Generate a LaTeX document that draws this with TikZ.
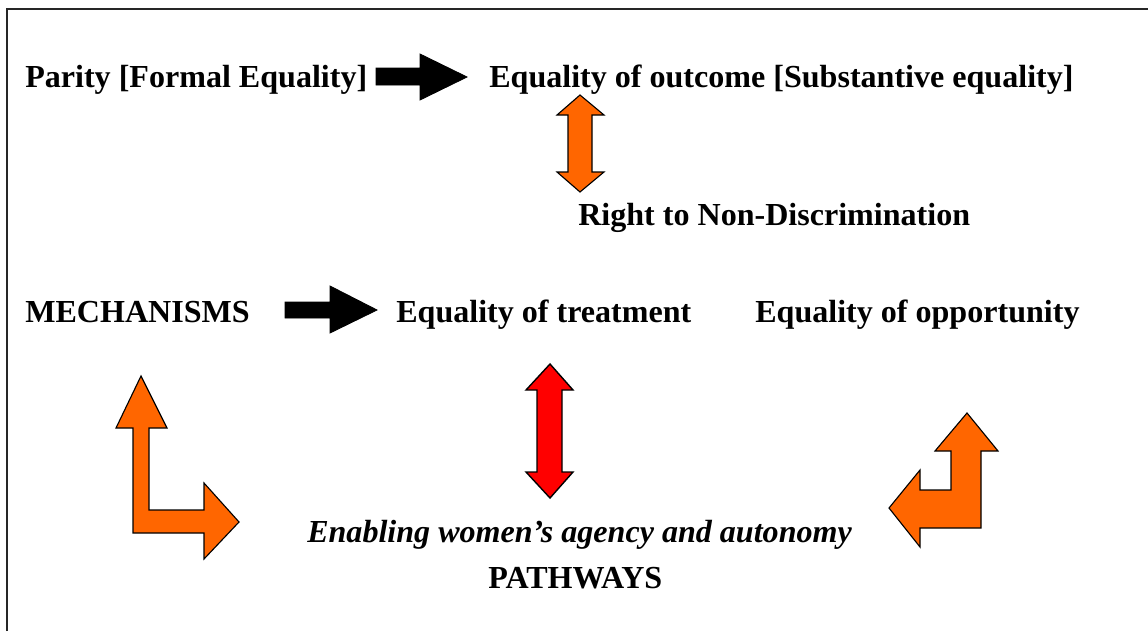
\documentclass[tikz,border=0pt]{standalone}
\usepackage{fontspec}
\setmainfont{Liberation Serif}
\usepackage{tikz}
\usetikzlibrary{positioning}

\definecolor{arroworange}{RGB}{255,102,0}
\definecolor{arrowred}{RGB}{255,0,0}

\begin{document}
\begin{tikzpicture}[x=0.025cm,y=-0.025cm]
        \tikzstyle{label} = [anchor=base west, inner sep=0pt, font=\fontsize{22.8}{27}\selectfont\bfseries]
        \tikzstyle{blackarrow} = [draw=black, fill=black, line width=0.6pt, line join=miter]
        \tikzstyle{orangearrow} = [draw=black, fill=arroworange, line width=0.8pt, line join=miter]
        \tikzstyle{redarrow} = [draw=black, fill=arrowred, line width=1pt, line join=miter]
        \useasboundingbox (0,0) rectangle (1148,631);
        % frame
        \draw [line width=1.5pt, black!85] (7,631) -- (7,9) -- (1148,9);

        \node (parity) [label] at (25,87) {Parity [Formal Equality]};
        \node (outcome) [label] at (489,87) {Equality of outcome [Substantive equality]};
        \node (nondisc) [label] at (578,225) {Right to Non-Discrimination};
        \node (mech) [label] at (25,322) {MECHANISMS};
        \node (treat) [label] at (396,322) {Equality of treatment};
        \node (opport) [label] at (755,322) {Equality of opportunity};
        \node (agency) [label, font=\fontsize{22.8}{27}\selectfont\bfseries\itshape] at (307,542) {Enabling women’s agency and autonomy};
        \node (path) [label] at (488,588) {PATHWAYS};

        % block arrows
        \draw [blackarrow] (376,68) -- (420,68) -- (420,54) -- (467,77) -- (420,100) -- (420,85) -- (376,85) -- cycle;
        \draw [blackarrow] (285,302) -- (330,302) -- (330,286) -- (377,310) -- (330,333) -- (330,318) -- (285,318) -- cycle;
        \draw [orangearrow] (580,95) -- (604,115) -- (592,115) -- (592,172) -- (604,172) -- (580,192)
                -- (557,172) -- (568,172) -- (568,115) -- (557,115) -- cycle;
        \draw [redarrow] (550,364) -- (573,390) -- (562,390) -- (562,472) -- (573,472) -- (550,498)
                -- (526,472) -- (537,472) -- (537,390) -- (526,390) -- cycle;
        \draw [orangearrow] (141,376) -- (167,428) -- (149,428) -- (149,510) -- (204,510) -- (204,483)
                -- (239,522) -- (204,559) -- (204,533) -- (133,533) -- (133,428) -- (116,428) -- cycle;
        \draw [orangearrow] (967,413) -- (998,451) -- (981,451) -- (981,528) -- (920,528) -- (920,547)
                -- (889,508) -- (920,470) -- (920,490) -- (951,490) -- (951,451) -- (935,451) -- cycle;
    \end{tikzpicture}
\end{document}
